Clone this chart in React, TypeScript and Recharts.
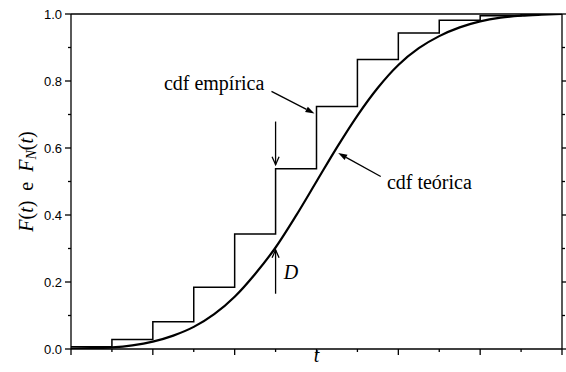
import { ComposedChart, Line, XAxis, YAxis, ReferenceLine, ReferenceDot } from "recharts";

const STEP_T = [0, 1, 2, 3, 4, 5, 6, 7, 8, 9, 10, 11, 12];
const EMPIRICAL = [0.007, 0.028, 0.081, 0.184, 0.343, 0.538, 0.724, 0.864, 0.943, 0.981, 0.995, 1.0, 1.0];

const CURVE_T = [0, 0.5, 1, 1.5, 2, 2.5, 3, 3.5, 4, 4.5, 5, 5.5, 6, 6.5, 7, 7.5, 8, 8.5, 9, 9.5, 10, 10.5, 11, 11.5, 12];
const THEORY = [0.001, 0.003, 0.005, 0.011, 0.022, 0.04, 0.066, 0.104, 0.156, 0.224, 0.303, 0.398, 0.5, 0.602, 0.697, 0.78, 0.848, 0.898, 0.934, 0.96, 0.978, 0.989, 0.995, 0.998, 1.0];

// every tick; the even ones (0.0, 0.2, ... / 0, 2, ...) are the long labelled ones
const Y_TICKS = [0, 0.1, 0.2, 0.3, 0.4, 0.5, 0.6, 0.7, 0.8, 0.9, 1.0];
const X_TICKS = [0, 1, 2, 3, 4, 5, 6, 7, 8, 9, 10, 11, 12];

const empData = STEP_T.map((t, i) => ({ t, v: EMPIRICAL[i] }));
const theoryData = CURVE_T.map((t, i) => ({ t, v: THEORY[i] }));

const SERIF = "'Liberation Serif', 'Times New Roman', serif";
const SANS = "'Liberation Sans', Arial, sans-serif";
const SW = 1.3;

// line with arrowhead at (x2, y2); filled = solid triangle, else open V
function arrowShape(filled: boolean) {
  return (p: any) => {
    const { x1, y1, x2, y2 } = p;
    const ang = Math.atan2(y2 - y1, x2 - x1);
    const len = filled ? 9 : 8;
    const hw = filled ? 3 : 3.5;
    const bx = x2 - len * Math.cos(ang);
    const by = y2 - len * Math.sin(ang);
    const px = -Math.sin(ang) * hw;
    const py = Math.cos(ang) * hw;
    return (
      <g>
        <line x1={x1} y1={y1} x2={filled ? bx : x2} y2={filled ? by : y2} stroke="#000" strokeWidth={SW} />
        {filled ? (
          <polygon points={`${x2},${y2} ${bx + px},${by + py} ${bx - px},${by - py}`} fill="#000" />
        ) : (
          <polyline points={`${bx + px},${by + py} ${x2},${y2} ${bx - px},${by - py}`} fill="none" stroke="#000" strokeWidth={SW} />
        )}
      </g>
    );
  };
}

function textShape(label: string, italic = false) {
  return (p: any) => (
    <text x={p.cx} y={p.cy} dominantBaseline="central" fontFamily={SERIF} fontSize={20} fontStyle={italic ? "italic" : "normal"} fill="#000">
      {label}
    </text>
  );
}

// tick marks drawn by hand: major 6px, minor 3px, pointing outward
function makeTick(side: "left" | "right" | "top" | "bottom", isMajor: (v: number) => boolean, withLabel = false) {
  return (p: any) => {
    const { x, y, payload } = p;
    const major = isMajor(payload.value);
    const len = major ? 6 : 3;
    let x2 = x, y2 = y;
    if (side === "left") x2 = x - len;
    if (side === "right") x2 = x + len;
    if (side === "top") y2 = y - len;
    if (side === "bottom") y2 = y + len;
    return (
      <g>
        <line x1={x} y1={y} x2={x2} y2={y2} stroke="#000" strokeWidth={SW} />
        {withLabel && major && (
          <text x={x2 - 3} y={y} textAnchor="end" dominantBaseline="central" fontFamily={SANS} fontSize={13} fill="#000">
            {Number(payload.value).toFixed(1)}
          </text>
        )}
      </g>
    );
  };
}

const yMajor = (v: number) => Math.round(v * 10) % 2 === 0;
const xMajor = (v: number) => Math.round(v) % 2 === 0;

function YLabel(props: any) {
  const vb = props.viewBox;
  const x = vb.x + 15;
  const y = vb.y + vb.height / 2;
  return (
    <text x={x} y={y} transform={`rotate(-90, ${x}, ${y})`} textAnchor="middle" dominantBaseline="central" fontFamily={SERIF} fontSize={20} fill="#000" style={{ whiteSpace: "pre" }}>
      <tspan fontStyle="italic">F</tspan>(<tspan fontStyle="italic">t</tspan>){"  e  "}<tspan fontStyle="italic">F</tspan>
      <tspan fontStyle="italic" fontSize={14} dy={5}>N</tspan>
      <tspan dy={-5}>(</tspan>
      <tspan fontStyle="italic">t</tspan>)
    </text>
  );
}

function XLabel(props: any) {
  const vb = props.viewBox;
  return (
    <text x={vb.x + vb.width / 2} y={vb.y + 13} textAnchor="middle" fontFamily={SERIF} fontSize={20} fontStyle="italic" fill="#000">
      t
    </text>
  );
}

const common = { type: "number" as const, stroke: "#000", strokeWidth: SW, tickLine: false, tickSize: 0, tickMargin: 0, allowDataOverflow: true, interval: 0 as const };

export default function App() {
  return (
    <div style={{ position: "absolute", left: 0, top: 0, background: "#fff" }}>
      <ComposedChart width={566} height={372} margin={{ top: 13, right: 3, bottom: 22, left: 11 }}>
        <XAxis {...common} xAxisId={0} dataKey="t" domain={[0, 12]} ticks={X_TICKS} tick={makeTick("bottom", xMajor)} height={1} label={{ content: XLabel }} />
        <XAxis {...common} xAxisId="top" orientation="top" domain={[0, 12]} ticks={X_TICKS} tick={makeTick("top", xMajor)} height={1} />

        <YAxis {...common} yAxisId={0} domain={[0, 1]} ticks={Y_TICKS} width={60} tick={makeTick("left", yMajor, true)} label={{ content: YLabel }} />
        <YAxis {...common} yAxisId="right" orientation="right" domain={[0, 1]} ticks={Y_TICKS} width={1} tick={makeTick("right", yMajor)} />

        <Line data={empData} dataKey="v" type="stepAfter" stroke="#000" strokeWidth={1.5} dot={false} isAnimationActive={false} />
        <Line data={theoryData} dataKey="v" type="monotone" stroke="#000" strokeWidth={2.2} dot={false} isAnimationActive={false} />

        <ReferenceLine segment={[{ x: 4.9, y: 0.769 }, { x: 5.95, y: 0.703 }]} shape={arrowShape(true)} />
        <ReferenceLine segment={[{ x: 7.57, y: 0.515 }, { x: 6.53, y: 0.585 }]} shape={arrowShape(true)} />
        <ReferenceLine segment={[{ x: 5, y: 0.679 }, { x: 5, y: 0.55 }]} shape={arrowShape(false)} />
        <ReferenceLine segment={[{ x: 5, y: 0.165 }, { x: 5, y: 0.296 }]} shape={arrowShape(false)} />

        <ReferenceDot x={2.27} y={0.795} r={0} shape={textShape("cdf empírica")} />
        <ReferenceDot x={7.72} y={0.5} r={0} shape={textShape("cdf teórica")} />
        <ReferenceDot x={5.2} y={0.23} r={0} shape={textShape("D", true)} />
      </ComposedChart>
    </div>
  );
}
